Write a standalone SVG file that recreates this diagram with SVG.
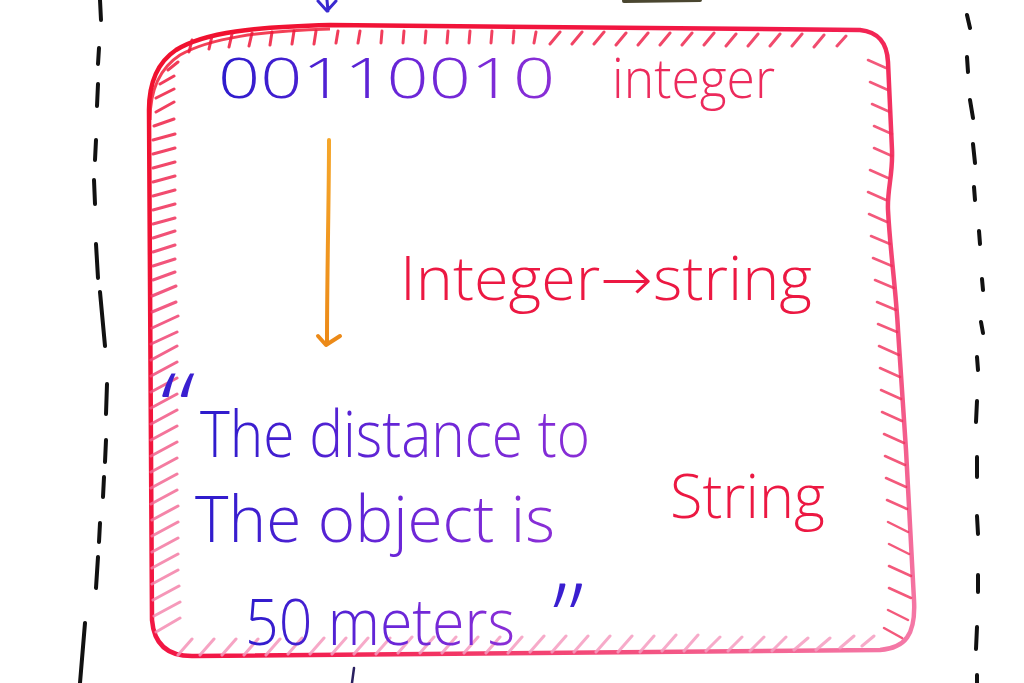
<svg xmlns="http://www.w3.org/2000/svg" width="1024" height="683" viewBox="0 0 1024 683">
<defs>
<linearGradient id="boxGrad" gradientUnits="userSpaceOnUse" x1="150" y1="20" x2="900" y2="660">
<stop offset="0" stop-color="#f0102c"/>
<stop offset="0.5" stop-color="#f21848"/>
<stop offset="1" stop-color="#f47aa8"/>
</linearGradient>
<linearGradient id="hatchGrad" gradientUnits="userSpaceOnUse" x1="150" y1="20" x2="300" y2="660">
<stop offset="0" stop-color="#ee1030"/>
<stop offset="0.45" stop-color="#f04070"/>
<stop offset="1" stop-color="#f59cc0"/>
</linearGradient>
<linearGradient id="ink" x1="0" y1="0" x2="1" y2="0">
<stop offset="0" stop-color="#2c1bcc"/>
<stop offset="0.55" stop-color="#6a26d8"/>
<stop offset="1" stop-color="#8a2ed6"/>
</linearGradient>
<linearGradient id="orange" x1="0" y1="0" x2="0" y2="1">
<stop offset="0" stop-color="#f5a62a"/>
<stop offset="1" stop-color="#ec8a18"/>
</linearGradient>
</defs>
<style>
.dash{fill:none;stroke:#111;stroke-width:4;stroke-linecap:round}
.hand{font-family:"Open Sans","DejaVu Sans",sans-serif;font-weight:300}
.blue{fill:url(#ink)}
.quote{fill:#3a1fd0}
.red{fill:#ec1842}
.pink{fill:#ec2a5c}
.hatch{fill:none;stroke:url(#hatchGrad);stroke-width:3;stroke-linecap:round;opacity:0.85}
.hatchR{fill:none;stroke:#f0305a;stroke-width:2.5;stroke-linecap:round;opacity:0.8}
</style>
<rect width="1024" height="683" fill="#ffffff"/>

<g id="frame-left">
<path class="dash" d="M100 0 L101 20 M99 48 L98 64 M98 84 L97 106 M96 140 L95 160 M94 180 L95 204 M96 244 L98 278 M100 292 L105 346 M107 384 L106 414 M106 440 L105 462 M104 477 L103 497 M100 523 L99 542 M98 557 L96 588 M85 623 L80 683"/>
</g>
<g id="frame-right">
<path class="dash" d="M967 15 L970 28 M967 57 L968 72 M970 100 L973 118 M973 144 L975 163 M974 187 L975 200 M979 231 L980 244 M982 279 L983 290 M981 322 L983 333 M977 357 L978 370 M977 401 L976 422 M977 457 L977 477 M977 516 L978 534 M978 575 L978 592 M977 627 L976 649 M977 675 L977 683"/>
<path d="M624 1 L700 0" fill="none" stroke="#4a4630" stroke-width="4" stroke-linecap="round"/>
</g>

<g id="box">
<path d="M176 50 C205 32 255 27 330 25 L860 30 C878 32 887 42 888 62 L892 150 C893 175 887 190 888 210 C890 250 896 290 898 330 L906 450 L914 600 C916 635 905 648 880 650 L195 656 C168 657 154 645 152 620 L149 110 C149 82 158 62 176 50 Z" fill="none" stroke="url(#boxGrad)" stroke-width="4.5" stroke-linejoin="round"/>
<path d="M150 120 C150 90 160 68 180 55 C210 38 260 31 330 29" fill="none" stroke="#f0102c" stroke-width="3" opacity="0.8"/>
<path class="hatch" d="M192 40 l-3 12 M212 36 l-3 13 M232 34 l-3 13 M252 33 l-3 13 M272 32 l-2 13 M294 31 l-2 13 M316 31 l-2 13 M338 31 l-2 12 M360 31 l-2 12 M382 31 l-1 12 M404 31 l-1 12 M426 31 l-1 12 M448 31 l-1 12 M470 31 l-1 12 M492 31 l-1 12 M514 31 l-1 12 M536 32 l-2 11 M560 32 l-10 12 M582 32 l-10 12 M604 32 l-10 12 M626 33 l-10 12 M648 33 l-10 12 M670 33 l-10 12 M692 33 l-10 12 M714 33 l-10 12 M736 34 l-10 12 M758 34 l-10 12 M780 34 l-10 12 M802 34 l-10 12 M824 35 l-10 12 M846 36 l-9 10"/>
<path class="hatch" d="M168 70 l10 -8 M160 84 l14 -8 M156 98 l18 -9 M156 112 l18 -10 M154 126 l20 -7 M153 140 l22 -6 M153 154 l22 -6 M153 168 l22 -6 M153 182 l22 -6 M153 196 l22 -6 M153 210 l22 -6 M153 224 l22 -6 M153 238 l22 -7 M153 252 l22 -7 M153 266 l22 -7 M153 280 l22 -8 M152 296 l24 -10 M152 312 l24 -10 M152 328 l26 -12 M151 344 l26 -12 M151 360 l26 -14 M151 376 l26 -14 M151 392 l26 -14 M151 408 l26 -14 M151 424 l26 -14 M151 440 l26 -14 M151 456 l26 -14 M151 472 l26 -14 M151 488 l26 -14 M151 504 l26 -14 M152 520 l26 -14 M152 536 l26 -14 M152 552 l26 -14 M152 568 l26 -14 M152 584 l26 -14 M153 600 l26 -14 M154 616 l26 -14 M156 632 l24 -14"/>
<path class="hatch" d="M178 655 l14 -16 M200 655 l14 -16 M222 655 l14 -16 M244 655 l14 -16 M266 655 l14 -16 M288 654 l14 -16 M310 654 l14 -16 M332 654 l14 -16 M354 654 l14 -16 M376 654 l14 -16 M398 653 l14 -16 M420 653 l14 -16 M442 653 l14 -16 M464 653 l14 -16 M486 653 l14 -16 M508 653 l14 -16 M530 652 l14 -16 M552 652 l14 -16 M574 652 l14 -16 M596 652 l14 -16 M618 652 l14 -16 M640 652 l14 -16 M662 651 l14 -16 M684 651 l14 -16 M706 651 l14 -14 M728 651 l14 -14 M750 651 l14 -14 M772 651 l14 -14 M794 650 l14 -12 M816 650 l14 -12 M840 648 l14 -12 M862 646 l12 -10"/>
<path class="hatchR" d="M868 60 l18 8 M870 82 l18 8 M872 104 l18 8 M874 126 l18 8 M874 148 l18 8 M870 170 l18 8 M868 192 l18 8 M869 214 l18 8 M871 236 l19 8 M873 258 l19 8 M875 280 l19 8 M877 302 l19 8 M878 324 l19 8 M879 346 l20 9 M880 368 l20 9 M881 390 l20 9 M882 412 l20 9 M884 434 l20 9 M885 456 l20 9 M886 478 l20 9 M887 500 l20 9 M888 522 l20 10 M889 544 l20 10 M889 566 l22 10 M889 588 l22 10 M888 610 l20 10 M884 628 l18 10"/>
</g>

<g id="binary">
<text class="hand blue" x="218" y="98" font-size="56" textLength="337" lengthAdjust="spacingAndGlyphs">00110010</text>
</g>
<g id="label-integer">
<text class="hand pink" x="612" y="98" font-size="56" textLength="163" lengthAdjust="spacingAndGlyphs">integer</text>
</g>

<g id="connectors">
<path d="M329 140 C329 200 327 270 327 342" fill="none" stroke="url(#orange)" stroke-width="4" stroke-linecap="round"/>
<path d="M318 336 L326 345 L340 336" fill="none" stroke="#ec8a18" stroke-width="4" stroke-linecap="round" stroke-linejoin="round"/>
<path d="M327 0 L328 11 M318 1 L327 11 L336 1" fill="none" stroke="#3a2ad0" stroke-width="3" stroke-linecap="round" stroke-linejoin="round"/>
<path d="M354 668 L352 683" fill="none" stroke="#2a2060" stroke-width="2.5" stroke-linecap="round"/>
</g>

<g id="conversion-label">
<text class="hand red" x="400" y="300" font-size="60" textLength="412" lengthAdjust="spacingAndGlyphs">Integer→string</text>
</g>

<g id="string-text">
<text class="hand quote" x="160" y="442" font-size="96" textLength="36" lengthAdjust="spacingAndGlyphs">“</text>
<text class="hand blue" x="200" y="457" font-size="64" textLength="390" lengthAdjust="spacingAndGlyphs">The distance to</text>
<text class="hand blue" x="195" y="542" font-size="64" textLength="360" lengthAdjust="spacingAndGlyphs">The object  is</text>
<text class="hand blue" x="245" y="645" font-size="64" textLength="270" lengthAdjust="spacingAndGlyphs">50 meters</text>
<text class="hand quote" x="552" y="652" font-size="96" textLength="32" lengthAdjust="spacingAndGlyphs">”</text>
</g>

<g id="label-string">
<text class="hand red" x="670" y="518" font-size="60" textLength="155" lengthAdjust="spacingAndGlyphs">String</text>
</g>
</svg>
